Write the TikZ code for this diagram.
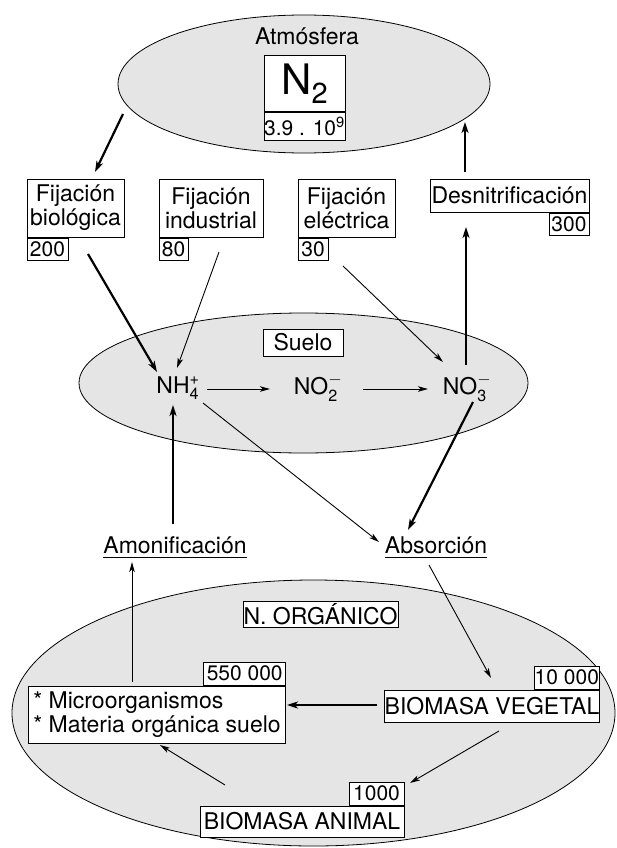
\documentclass[tikz,border=0pt]{standalone}
\usepackage{amsmath}
\usepackage{fontspec}
\setmainfont{TeX Gyre Heros}
\usetikzlibrary{arrows.meta,shapes.geometric,positioning}

\begin{document}
\begin{tikzpicture}[x=1pt,y=-1pt,font=\fontsize{23}{24}\selectfont,
  pool/.style={ellipse,draw,fill=black!10,line width=0.8pt,inner sep=0pt},
  box node/.style={draw,fill=white,line width=1pt,inner sep=0pt,align=center},
  num node/.style={box node,font=\fontsize{21}{21}\selectfont,minimum height=22pt},
  ion node/.style={inner sep=0pt},
  thin flow/.style={-{Stealth[length=10pt,width=5.5pt,inset=2.5pt]},line width=0.9pt},
  thick flow/.style={-{Stealth[length=11pt,width=7pt,inset=3pt]},line width=2.2pt}]

  \useasboundingbox (0,0) rectangle (616,848);

  % pools
  \node[pool,minimum width=372pt,minimum height=138pt] (atm) at (304,84) {};
  \node[pool,minimum width=449pt,minimum height=140pt] (soil) at (303.5,383) {};
  \node[pool,minimum width=603pt,minimum height=266pt] (org) at (313.5,713) {};

  % atmosphere
  \node (atmtext) at (307,36) {Atmósfera};
  \node[box node,minimum width=81pt,minimum height=56pt,font=\fontsize{42}{42}\selectfont] (n2) at (304.5,84)
    {N\raisebox{-9pt}{\fontsize{29}{29}\selectfont 2}};
  \node[num node,minimum width=81pt,minimum height=27pt,below=0pt of n2] (n2num) {3.9 . 10\textsuperscript{9}};

  % fixation and denitrification
  \node[box node,minimum width=97pt,minimum height=58pt] (fb) at (75.5,208) {Fijación\\biológica};
  \node[box node,minimum width=104pt,minimum height=58pt] (fi) at (211,208) {Fijación\\industrial};
  \node[box node,minimum width=97pt,minimum height=58pt] (fe) at (346.5,208) {Fijación\\eléctrica};
  \node[box node,minimum width=159pt,minimum height=33pt] (den) at (509.5,195.5) {Desnitrificación};
  \node[num node,minimum width=41pt,anchor=north west] (fbnum) at (fb.south west) {200};
  \node[num node,minimum width=29pt,anchor=north west] (finum) at (fi.south west) {80};
  \node[num node,minimum width=30pt,anchor=north west] (fenum) at (fe.south west) {30};
  \node[num node,minimum width=40pt,anchor=north east] (dennum) at (den.south east) {300};

  % soil
  \node[box node,minimum width=80pt,minimum height=27pt] (soiltext) at (303,342.5) {Suelo};
  \node[ion node] (nh) at (178,388) {NH$_{\text{4}}^{\text{+}}$};
  \node[ion node] (no2) at (318,388) {NO$_{\text{2}}^{-}$};
  \node[ion node] (no3) at (467,388) {NO$_{\text{3}}^{-}$};

  \node (amo) at (175,548) {\underline{Amonificación}};
  \node (abs) at (436,548) {\underline{Absorción}};

  % organic nitrogen
  \node[box node,minimum width=155pt,minimum height=26pt] (orgtext) at (320.5,614) {N. ORGÁNICO};
  \node[box node,minimum width=250pt,minimum height=57pt,inner xsep=5pt,align=left] (micro) at (157,714.5)
    {* Microorganismos\\* Materia orgánica suelo};
  \node[box node,minimum width=206pt,minimum height=32pt] (veg) at (492,706) {BIOMASA VEGETAL};
  \node[box node,minimum width=204pt,minimum height=31pt] (ani) at (302,821.5) {BIOMASA ANIMAL};
  \node[num node,minimum width=82pt,minimum height=23pt,anchor=south east] (micronum) at (micro.north east) {550 000};
  \node[num node,minimum width=65pt,minimum height=23pt,anchor=south east] (vegnum) at (veg.north east) {10 000};
  \node[num node,minimum width=55pt,minimum height=23pt,anchor=south east] (aninum) at (ani.north east) {1000};

  \path[thick flow]
    ([shift={(-181,30)}]atm.center) edge ([shift={(19.5,-36)}]fb.center)
    ([shift={(12.5,46)}]fb.center) edge ([shift={(-21,-16)}]nh.center)
    ([shift={(-1,-23)}]no3.center) edge ([shift={(-43.5,31.5)}]den.center)
    ([shift={(-44.5,-23.5)}]den.center) edge ([shift={(161,38)}]atm.center)
    ([shift={(6,14)}]no3.center) edge ([shift={(-28,-18)}]abs.center)
    ([shift={(-2,-24)}]amo.center) edge ([shift={(-5,17)}]nh.center)
    ([shift={(-115,-1)}]veg.center) edge ([shift={(130,-9.5)}]micro.center);

  \path[thin flow]
    ([shift={(8,44)}]fi.center) edge ([shift={(-1,-20)}]nh.center)
    ([shift={(-3.5,58)}]fe.center) edge ([shift={(-24,-26)}]no3.center)
    ([shift={(29,1)}]nh.center) edge ([shift={(-48,1)}]no2.center)
    ([shift={(45,1)}]no2.center) edge ([shift={(-39,1)}]no3.center)
    ([shift={(25,15)}]nh.center) edge ([shift={(-57,-6)}]abs.center)
    ([shift={(-25,-32.5)}]micro.center) edge ([shift={(-43,14)}]amo.center)
    ([shift={(-7,17)}]abs.center) edge ([shift={(-1,-28)}]veg.center)
    ([shift={(7,25)}]veg.center) edge ([shift={(108,-38.5)}]ani.center)
    ([shift={(-77,-36.5)}]ani.center) edge ([shift={(3,30.5)}]micro.center);
\end{tikzpicture}
\end{document}
